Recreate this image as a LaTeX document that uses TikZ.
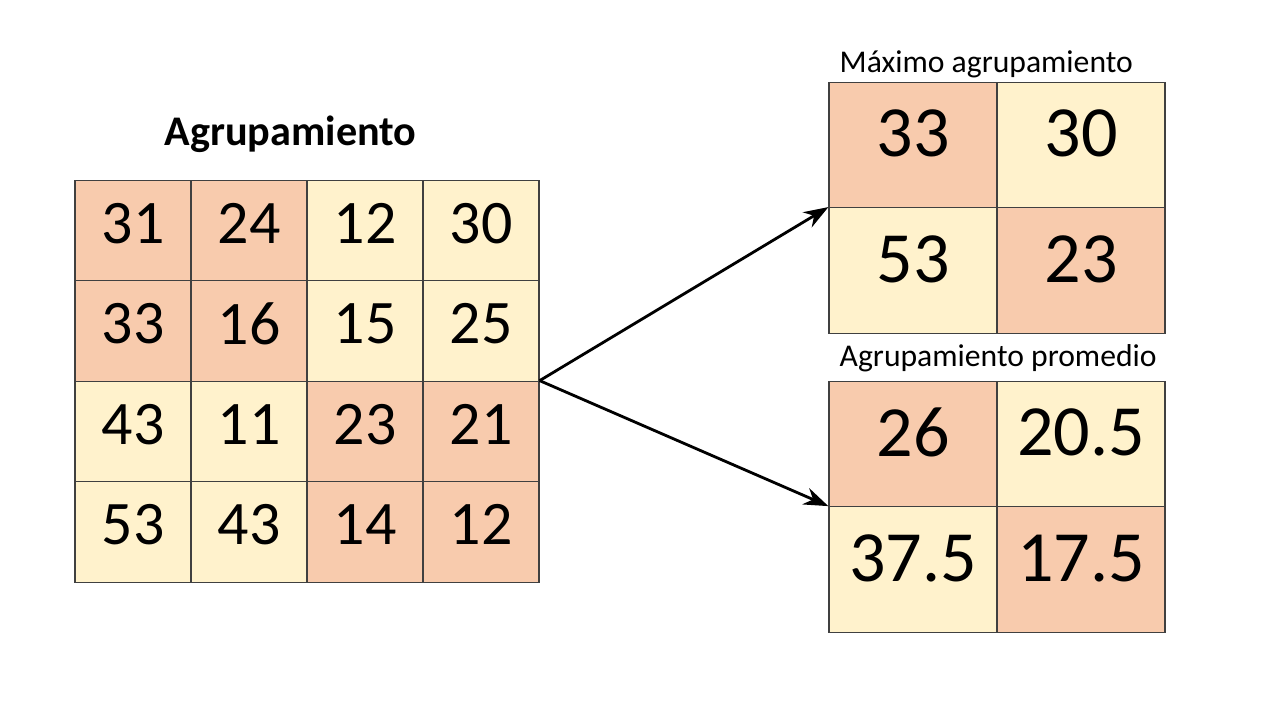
\documentclass[tikz,border=0pt]{standalone}
\usepackage{fontspec}
\setmainfont{Carlito}
\usetikzlibrary{arrows.meta}
\definecolor{salmon}{HTML}{F8CBAD}
\definecolor{cream}{HTML}{FFF2CC}
\definecolor{gridline}{HTML}{404040}
\tikzset{
  cellS/.style={draw=gridline, line width=0.35pt, inner sep=0pt, minimum width=1.16cm, minimum height=1.005cm, font=\fontsize{17.6}{20}\selectfont},
  cellB/.style={draw=gridline, line width=0.35pt, inner sep=0pt, minimum width=1.68cm, minimum height=1.255cm, font=\fontsize{20.5}{24}\selectfont},
  sal/.style={fill=salmon},
  crm/.style={fill=cream},
  conn/.style={draw=black, line width=0.8pt, -{Stealth[length=7pt,width=5pt]}},
  title/.style={inner sep=0pt, anchor=base west},
}
\newcommand{\rs}[1]{\raisebox{4.1pt}{#1}}
\newcommand{\rb}[1]{\raisebox{6.6pt}{#1}}
\begin{document}
\begin{tikzpicture}[x=0.01cm, y=-0.01cm]
\useasboundingbox (0,0) rectangle (1280,720);
% left grid
\node[cellS,sal] (c11) at (133,230.5) {\rs{31}};
\node[cellS,sal] (c12) at (249,230.5) {\rs{24}};
\node[cellS,crm] (c13) at (365,230.5) {\rs{12}};
\node[cellS,crm] (c14) at (481,230.5) {\rs{30}};
\node[cellS,sal] (c21) at (133,331) {\rs{33}};
\node[cellS,sal] (c22) at (249,331) {\rs{16}};
\node[cellS,crm] (c23) at (365,331) {\rs{15}};
\node[cellS,crm] (c24) at (481,331) {\rs{25}};
\node[cellS,crm] (c31) at (133,431.5) {\rs{43}};
\node[cellS,crm] (c32) at (249,431.5) {\rs{11}};
\node[cellS,sal] (c33) at (365,431.5) {\rs{23}};
\node[cellS,sal] (c34) at (481,431.5) {\rs{21}};
\node[cellS,crm] (c41) at (133,532) {\rs{53}};
\node[cellS,crm] (c42) at (249,532) {\rs{43}};
\node[cellS,sal] (c43) at (365,532) {\rs{14}};
\node[cellS,sal] (c44) at (481,532) {\rs{12}};
\node[title, font=\bfseries\fontsize{12}{14}\selectfont] (t0) at (164,145) {Agrupamiento};
% max pooling
\node[title, font=\fontsize{9}{11}\selectfont] (t1) at (839,72) {Máximo agrupamiento};
\node[cellB,sal] (m11) at (913,145) {\rb{33}};
\node[cellB,crm] (m12) at (1081,145) {\rb{30}};
\node[cellB,crm] (m21) at (913,270.5) {\rb{53}};
\node[cellB,sal] (m22) at (1081,270.5) {\rb{23}};
% average pooling
\node[title, font=\fontsize{9}{11}\selectfont] (t2) at (839,366) {Agrupamiento promedio};
\node[cellB,sal] (a11) at (913,444) {\rb{26}};
\node[cellB,crm] (a12) at (1081,444) {\rb{20.5}};
\node[cellB,crm] (a21) at (913,569.5) {\rb{37.5}};
\node[cellB,sal] (a22) at (1081,569.5) {\rb{17.5}};
% connectors
\draw[conn] (c34.north east) -- (m21.north west);
\draw[conn] (c34.north east) -- (a21.north west);
\end{tikzpicture}
\end{document}
